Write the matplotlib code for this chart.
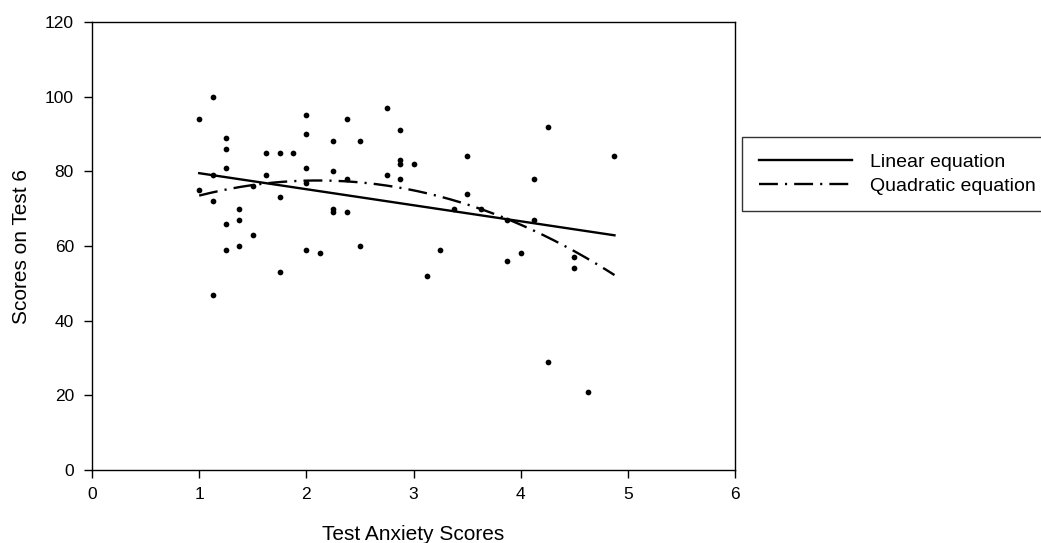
import numpy as np
import matplotlib
matplotlib.use("Agg")
import matplotlib.pyplot as plt

plt.rcParams['font.family'] = ['Liberation Sans', 'DejaVu Sans']

anxiety = [1.0, 1.0, 1.125, 1.125, 1.125, 1.125, 1.25, 1.25, 1.25, 1.25, 1.25,
           1.375, 1.375, 1.375, 1.5, 1.5, 1.625, 1.625, 1.75, 1.75, 1.75, 1.875,
           2.0, 2.0, 2.0, 2.0, 2.0, 2.125, 2.25, 2.25, 2.25, 2.25,
           2.375, 2.375, 2.375, 2.5, 2.5, 2.75, 2.75, 2.875, 2.875, 2.875, 2.875,
           3.0, 3.125, 3.25, 3.375, 3.5, 3.5, 3.625, 3.875, 3.875, 4.0,
           4.125, 4.125, 4.25, 4.25, 4.5, 4.5, 4.625, 4.875]
scores = [94, 75, 100, 79, 72, 47, 89, 86, 81, 66, 59,
          70, 67, 60, 63, 76, 85, 79, 85, 73, 53, 85,
          95, 90, 81, 77, 59, 58, 88, 80, 70, 69,
          94, 78, 69, 88, 60, 97, 79, 91, 83, 82, 78,
          82, 52, 59, 70, 84, 74, 70, 67, 56, 58,
          78, 67, 92, 29, 57, 54, 21, 84]

x = np.array(anxiety)
y = np.array(scores)
lin = np.polyfit(x, y, 1)
quad = np.polyfit(x, y, 2)
xs = np.linspace(x.min(), x.max(), 200)

fig = plt.figure(figsize=(10.41, 5.43), dpi=100)
ax = fig.add_axes([0.0884, 0.1344, 0.6177, 0.8251])

ax.scatter(x, y, s=17, color='black', zorder=3, linewidths=0)
ax.plot(xs, np.polyval(lin, xs), color='black', lw=1.7, label='Linear equation')
ax.plot(xs, np.polyval(quad, xs), color='black', lw=1.7,
        linestyle=(0, (8, 3, 0.9, 3)), label='Quadratic equation')

ax.set_xlim(0, 6)
ax.set_ylim(0, 120)
ax.set_xticks(range(0, 7))
ax.set_yticks(range(0, 121, 20))
ax.tick_params(direction='out', length=6, width=1, labelsize=12.5,
               colors='black', pad=7)
ax.tick_params(axis='x', pad=6)
for s in ax.spines.values():
    s.set_linewidth(1)
ax.set_xlabel('Test Anxiety Scores', fontsize=15, labelpad=17)
ax.set_ylabel('Scores on Test 6', fontsize=15, labelpad=10)

leg = ax.legend(loc='upper left', bbox_to_anchor=(1.0109, 0.7433), fontsize=14,
                frameon=True, fancybox=False, edgecolor='black',
                handlelength=4.8, handletextpad=0.95, borderpad=0.85,
                labelspacing=0.3, borderaxespad=0)
leg.get_frame().set_linewidth(1)

fig.savefig('out.png', dpi=100)
